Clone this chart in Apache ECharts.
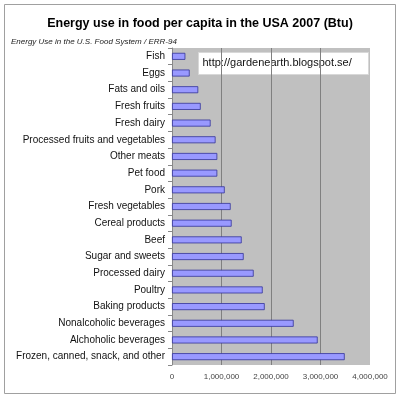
<!DOCTYPE html>
<html>
<head>
<meta charset="utf-8">
<script src="https://cdn.jsdelivr.net/npm/echarts@6/dist/echarts.min.js"></script>
<style>
  html, body { margin: 0; padding: 0; background: #fff; }
  #chart { width: 400px; height: 397px; }
</style>
</head>
<body>
<div id="chart"></div>
<script>
// categories from top to bottom as in the picture
const categories = [
  'Fish', 'Eggs', 'Fats and oils', 'Fresh fruits', 'Fresh dairy',
  'Processed fruits and vegetables', 'Other meats', 'Pet food', 'Pork',
  'Fresh vegetables', 'Cereal products', 'Beef', 'Sugar and sweets',
  'Processed dairy', 'Poultry', 'Baking products', 'Nonalcoholic beverages',
  'Alchoholic beverages', 'Frozen, canned, snack, and other'
]
const energyBtu = [
  270000, 357000, 530000, 580000, 780000,
  880000, 915000, 915000, 1065000,
  1185000, 1205000, 1408000, 1448000,
  1650000, 1832000, 1873000, 2458000,
  2943000, 3489000
]
const xTicks = [0, 1000000, 2000000, 3000000, 4000000]

let myChart = echarts.init(document.getElementById('chart'))

// y axis is drawn bottom-up, so reverse it
let option = {
  animation: false,
  backgroundColor: '#fff',
  title: [
    {
      text: 'Energy use in food per capita in the USA 2007 (Btu)',
      left: 'center',
      top: 12,
      textStyle: { fontFamily: 'Arial', fontSize: 12.5, fontWeight: 'bold', color: '#000' }
    },
    {
      text: 'Energy Use in the U.S. Food System / ERR-94',
      left: 6,
      top: 33,
      textStyle: { fontFamily: 'Arial', fontSize: 8, fontStyle: 'italic', fontWeight: 'normal', color: '#222' }
    }
  ],
  grid: {
    left: 172,
    right: 30,
    top: 48,
    bottom: 32,
    show: true,
    backgroundColor: '#c0c0c0',
    borderWidth: 0
  },
  xAxis: {
    type: 'value',
    min: xTicks[0],
    max: xTicks[xTicks.length - 1],
    interval: 1000000,
    axisLine: { show: false },
    axisTick: { show: false },
    splitLine: { show: true, showMinLine: false, showMaxLine: false, lineStyle: { color: '#808080', width: 1 } },
    axisLabel: {
      fontFamily: 'Arial',
      fontSize: 8,
      color: '#444',
      margin: 8,
      formatter: v => v.toLocaleString('en-US')
    }
  },
  yAxis: {
    type: 'category',
    data: categories,
    inverse: true,
    axisLine: { show: true, lineStyle: { color: '#888' } },
    axisTick: { show: true, length: 4, lineStyle: { color: '#888' } },
    axisLabel: { fontFamily: 'Arial', fontSize: 10, color: '#111', margin: 7 }
  },
  series: [
    {
      type: 'bar',
      data: energyBtu,
      barWidth: 7,
      itemStyle: { color: '#9999ff', borderColor: '#333399', borderWidth: 0.8 }
    }
  ],
  graphic: [
    {
      type: 'group',
      left: 198,
      top: 52,
      children: [
        {
          type: 'rect',
          shape: { x: 0, y: 0, width: 170, height: 22 },
          style: { fill: '#fff', stroke: '#d8d8d8', lineWidth: 1 }
        },
        {
          type: 'text',
          x: 4,
          y: 5,
          style: { text: 'http://gardenearth.blogspot.se/', font: '11px "Liberation Sans"', fill: '#111' }
        }
      ]
    },
    {
      type: 'rect',
      shape: { x: 4.5, y: 4.5, width: 391, height: 389 },
      style: { fill: 'none', stroke: '#a0a0a0', lineWidth: 1 },
      silent: true
    }
  ]
}

myChart.setOption(option)
</script>
</body>
</html>
